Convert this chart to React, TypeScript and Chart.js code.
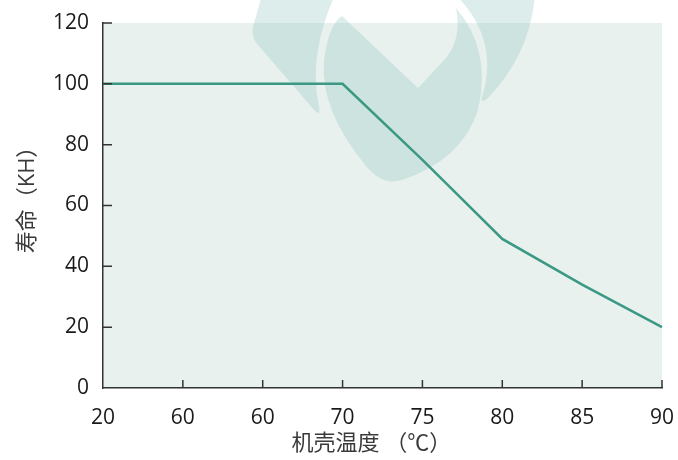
import React, { useEffect, useRef } from "react";
import { Chart, registerables } from "chart.js";

Chart.register(...registerables);

const categories = ["20", "60", "60", "70", "75", "80", "85", "90"];
const lifeKH = [100, 100, 100, 100, 75, 49, 34, 20];
const yMin = 0;
const yMax = 120;
const yStep = 20;
const xTitle = "机壳温度 （℃）　  ";
const yTitle = "　寿命（KH）";

const FONT = "'Open Sans', 'Noto Sans CJK SC', sans-serif";

const decorPlugin = {
  id: "decor",
  beforeDraw(chart: any) {
    const { ctx, chartArea } = chart;
    ctx.save();
    ctx.fillStyle = "#E8F1EE";
    ctx.fillRect(chartArea.left, chartArea.top, chartArea.right - chartArea.left, chartArea.bottom - chartArea.top);
    ctx.restore();
  },
  beforeDatasetsDraw(chart: any) {
    // faint watermark logo
    const { ctx } = chart;
    ctx.save();
    ctx.fillStyle = "rgba(150,200,192,0.32)";
    // left leaf
    ctx.beginPath();
    ctx.moveTo(262, -5);
    ctx.lineTo(255, 20);
    ctx.quadraticCurveTo(249, 35, 258, 45);
    ctx.lineTo(314, 110);
    ctx.quadraticCurveTo(321, 117, 319, 107);
    ctx.quadraticCurveTo(308, 55, 335, -5);
    ctx.closePath();
    ctx.fill();
    // center heart
    ctx.beginPath();
    ctx.moveTo(342, 16);
    ctx.lineTo(418, 88);
    ctx.lineTo(446, 58);
    ctx.quadraticCurveTo(462, 38, 456, 8);
    ctx.quadraticCurveTo(492, 50, 478, 110);
    ctx.quadraticCurveTo(462, 160, 402, 180);
    ctx.quadraticCurveTo(382, 186, 366, 166);
    ctx.quadraticCurveTo(320, 110, 324, 62);
    ctx.quadraticCurveTo(328, 25, 342, 16);
    ctx.closePath();
    ctx.fill();
    // right crescent
    ctx.beginPath();
    ctx.moveTo(456, -5);
    ctx.quadraticCurveTo(500, 40, 482, 97);
    ctx.quadraticCurveTo(480, 104, 487, 99);
    ctx.quadraticCurveTo(530, 55, 535, -5);
    ctx.closePath();
    ctx.fill();
    ctx.restore();
  },
  afterDatasetsDraw(chart: any) {
    const { ctx, chartArea, scales } = chart;
    const xs = scales.x;
    const ys = scales.y;
    ctx.save();
    ctx.strokeStyle = "#333";
    ctx.lineWidth = 1.5;
    ctx.beginPath();
    for (let i = 1; i < xs.ticks.length; i++) {
      const px = xs.getPixelForTick(i);
      ctx.moveTo(px, chartArea.bottom);
      ctx.lineTo(px, chartArea.bottom - 8);
    }
    for (let i = 1; i < ys.ticks.length; i++) {
      const py = ys.getPixelForTick(i);
      ctx.moveTo(chartArea.left, py);
      ctx.lineTo(chartArea.left + 9, py);
    }
    ctx.stroke();
    ctx.restore();
  },
};

export default function App() {
  const ref = useRef<HTMLCanvasElement>(null);
  useEffect(() => {
    document.body.style.margin = "0";
    const chart = new Chart(ref.current as HTMLCanvasElement, {
      type: "line",
      data: {
        labels: categories,
        datasets: [
          {
            data: lifeKH,
            borderColor: "#3A9883",
            borderWidth: 2.5,
            pointRadius: 0,
            tension: 0,
            fill: false,
          },
        ],
      },
      options: {
        animation: false,
        responsive: false,
        maintainAspectRatio: false,
        layout: { padding: { top: 23, right: 16, left: 0, bottom: 0 } },
        plugins: { legend: { display: false }, tooltip: { enabled: false } },
        scales: {
          x: {
            type: "category",
            offset: false,
            grid: { drawOnChartArea: false, drawTicks: false },
            border: { display: true, color: "#333", width: 1.5 },
            ticks: {
              color: "#1a1a1a",
              font: { family: FONT, size: 21 },
              padding: 17,
              maxRotation: 0,
              autoSkip: false,
            },
            title: {
              display: true,
              text: xTitle,
              color: "#3a3a3a",
              font: { family: FONT, size: 22 },
              padding: { top: 0, bottom: 3 },
            },
            afterFit(scale: any) {
              scale.height = 72;
              scale.paddingRight = 0;
              scale.paddingLeft = 0;
            },
          },
          y: {
            min: yMin,
            max: yMax,
            grid: { drawOnChartArea: false, drawTicks: false },
            border: { display: true, color: "#333", width: 1.5 },
            ticks: {
              stepSize: yStep,
              color: "#1a1a1a",
              font: { family: FONT, size: 21 },
              padding: 14,
            },
            title: {
              display: true,
              text: yTitle,
              color: "#3a3a3a",
              font: { family: FONT, size: 22 },
              padding: { top: 15, bottom: 0 },
            },
            afterFit(scale: any) {
              scale.width = 103;
              scale.paddingTop = 0;
              scale.paddingBottom = 0;
            },
          },
        },
      },
      plugins: [decorPlugin],
    });
    return () => chart.destroy();
  }, []);
  return (
    <div style={{ width: 678, height: 460 }}>
      <canvas ref={ref} width={678} height={460} style={{ width: 678, height: 460, display: "block" }} />
    </div>
  );
}
